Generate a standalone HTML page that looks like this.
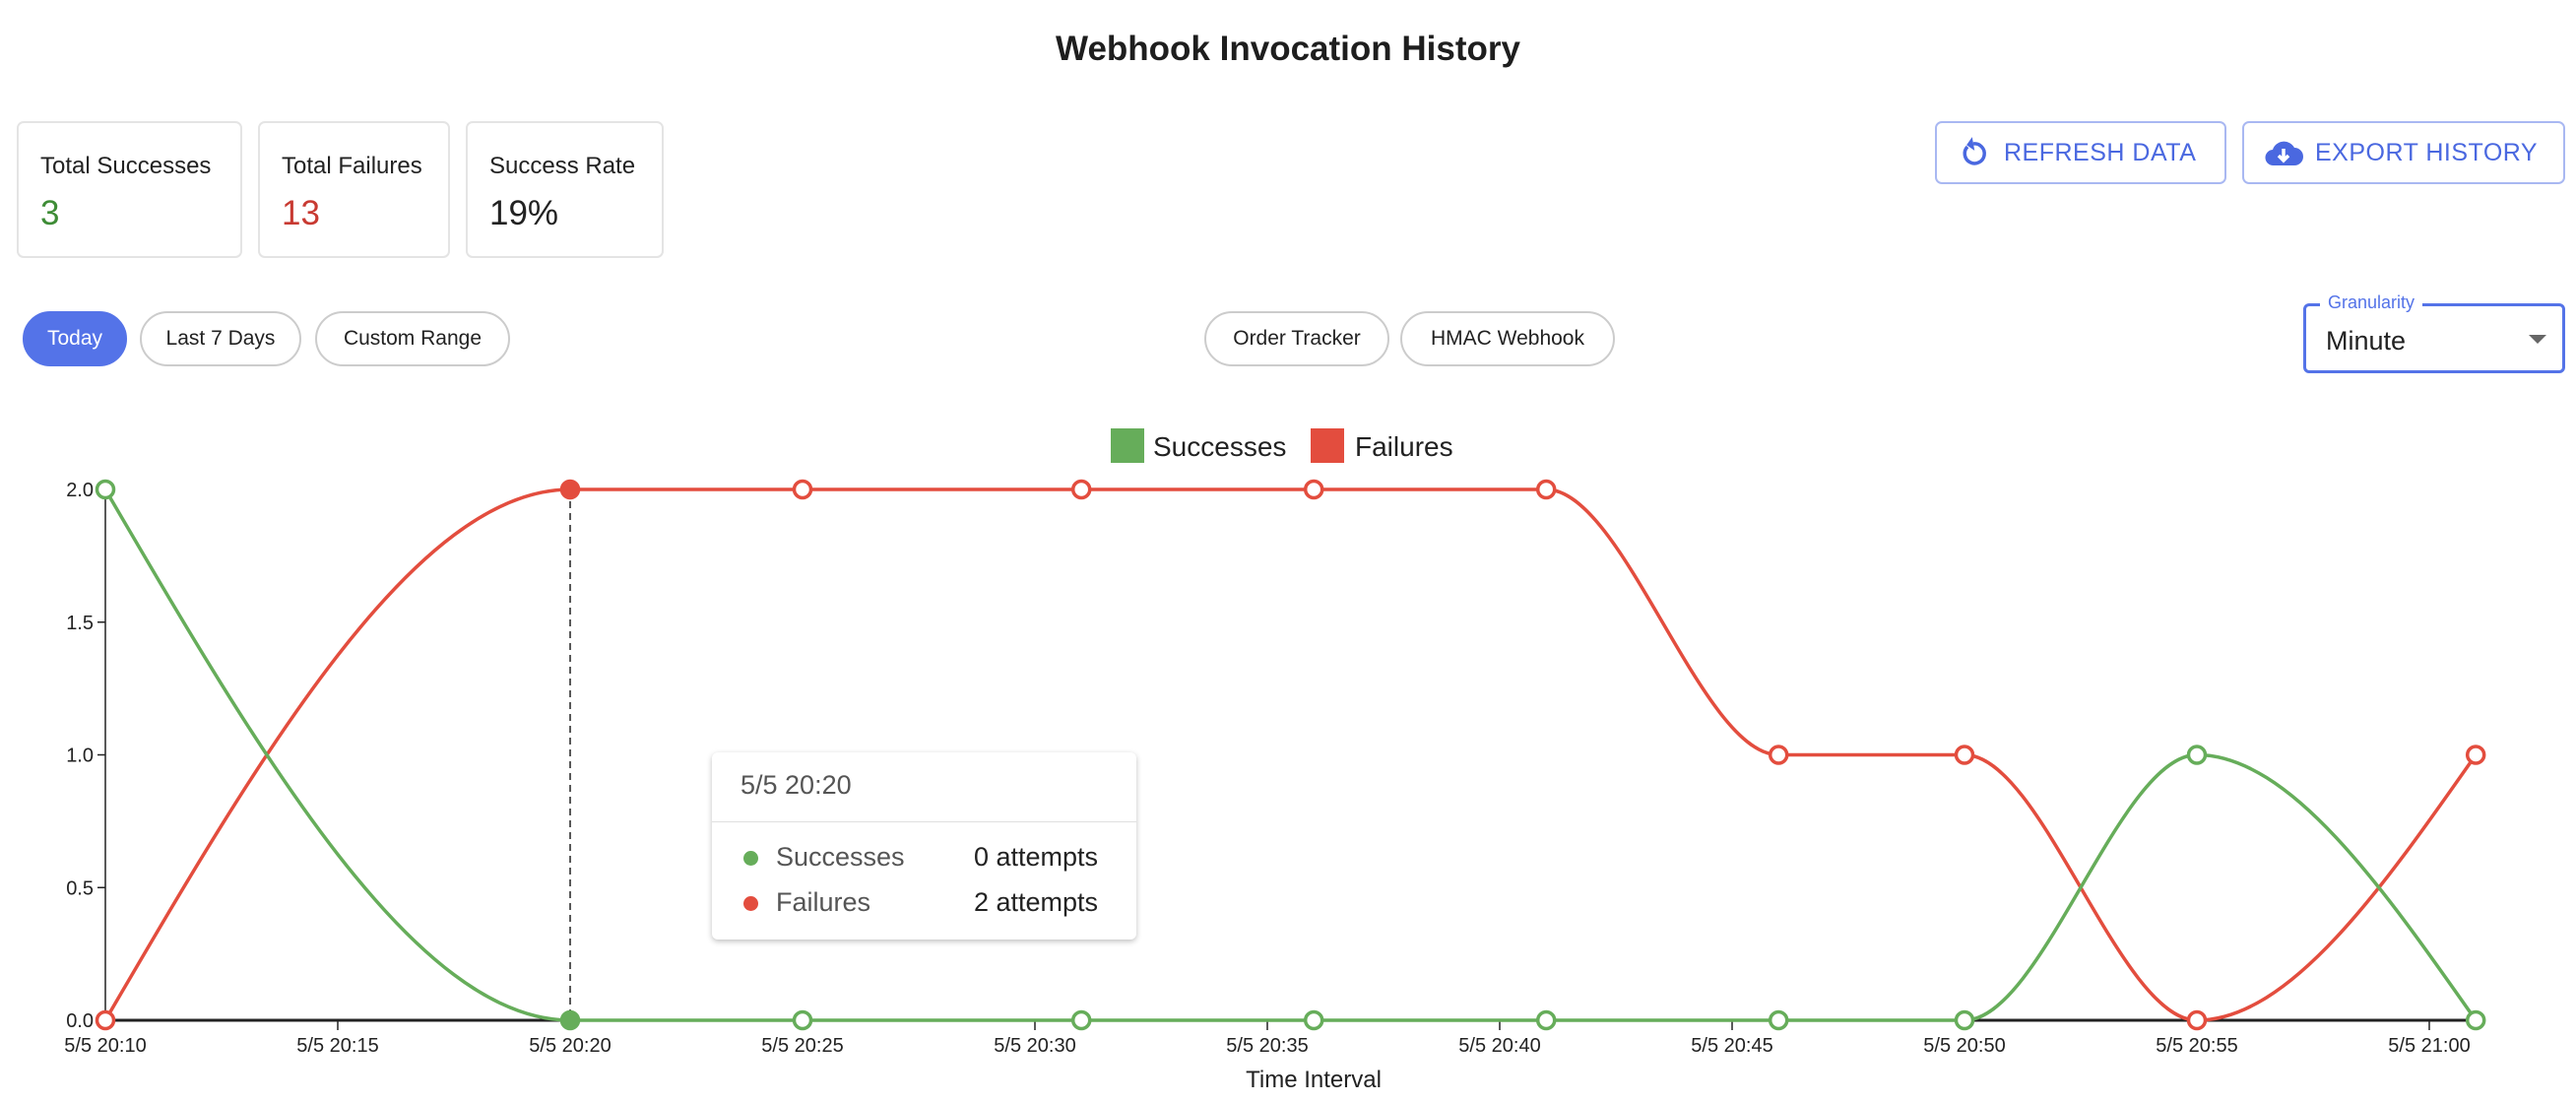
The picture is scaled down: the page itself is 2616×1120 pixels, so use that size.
<!DOCTYPE html>
<html><head><meta charset="utf-8"><style>
body{margin:0;width:2616px;height:1120px;background:#fff;font-family:"Liberation Sans",sans-serif;position:relative;overflow:hidden;color:#222}
.abs{position:absolute}
.card{position:absolute;top:123px;height:139px;border:2px solid #e4e4e4;border-radius:7px;box-sizing:border-box}
.card .lab{position:absolute;left:22px;top:30px;font-size:24px;color:#222}
.card .val{position:absolute;left:22px;top:72px;font-size:35px}
.btn{position:absolute;top:123px;height:64px;border:2px solid #a9b8f2;border-radius:7px;box-sizing:border-box;color:#4a68e0;font-size:25px;display:flex;align-items:center;letter-spacing:0.5px}
.chip{position:absolute;top:316px;height:56px;border:2px solid #ccc;border-radius:28px;box-sizing:border-box;font-size:21px;display:flex;align-items:center;justify-content:center;color:#222}
</style></head><body>
<div class="abs" style="left:0;width:2616px;top:30px;text-align:center;font-size:35px;font-weight:bold;color:#1e1e1e">Webhook Invocation History</div>

<div class="card" style="left:17px;width:229px"><div class="lab">Total Successes</div><div class="val" style="color:#3e8c36">3</div></div>
<div class="card" style="left:262px;width:195px"><div class="lab">Total Failures</div><div class="val" style="color:#c83a32">13</div></div>
<div class="card" style="left:473px;width:201px"><div class="lab">Success Rate</div><div class="val">19%</div></div>

<div class="btn" style="left:1965px;width:296px">
<svg width="30" height="36" viewBox="0 0 30 36" style="margin-left:22px;margin-right:16px"><path d="M9 12 A10 10 0 1 0 15 9" fill="none" stroke="#4a68e0" stroke-width="3.5"/><path d="M15 2 L15 16 L8 9 Z" fill="#4a68e0" transform="rotate(-10 15 9)"/></svg>REFRESH DATA</div>
<div class="btn" style="left:2277px;width:328px">
<svg width="40" height="34" viewBox="0 0 40 34" style="margin-left:20px;margin-right:12px"><path d="M10 30 A8 8 0 0 1 9 14 A12 12 0 0 1 31 12 A9 9 0 0 1 31 30 Z" fill="#4a68e0"/><path d="M20 13 V24 M15 20 L20 25 L25 20" stroke="#fff" stroke-width="3.5" fill="none"/></svg>EXPORT HISTORY</div>

<div class="chip" style="left:23px;width:106px;background:#5473e8;border-color:#5473e8;color:#fff">Today</div>
<div class="chip" style="left:142px;width:164px">Last 7 Days</div>
<div class="chip" style="left:320px;width:198px">Custom Range</div>
<div class="chip" style="left:1223px;width:188px">Order Tracker</div>
<div class="chip" style="left:1422px;width:218px">HMAC Webhook</div>

<div class="abs" style="left:2339px;top:308px;width:266px;height:71px;border:3px solid #5473e8;border-radius:6px;box-sizing:border-box">
<div class="abs" style="left:14px;top:-14px;background:#fff;padding:0 8px;font-size:18px;color:#5473e8">Granularity</div>
<div class="abs" style="left:20px;top:20px;font-size:27px;color:#222">Minute</div>
<div class="abs" style="left:226px;top:29px;width:0;height:0;border-left:9px solid transparent;border-right:9px solid transparent;border-top:9px solid #666"></div>
</div>

<svg id="chart" class="abs" style="left:0;top:0" width="2616" height="1120"></svg>

<div class="abs" style="left:723px;top:764px;width:431px;height:190px;background:#fff;border-radius:6px;box-shadow:0 2px 6px rgba(0,0,0,0.25);font-size:27px">
<div class="abs" style="left:29px;top:18px;color:#555">5/5 20:20</div>
<div class="abs" style="left:0;top:70px;width:431px;height:1px;background:#e0e0e0"></div>
<div class="abs" style="left:32px;top:100px;width:15px;height:15px;border-radius:50%;background:#66ad5a"></div>
<div class="abs" style="left:65px;top:91px;color:#555">Successes</div>
<div class="abs" style="left:266px;top:91px;color:#222">0 attempts</div>
<div class="abs" style="left:32px;top:146px;width:15px;height:15px;border-radius:50%;background:#e34d3e"></div>
<div class="abs" style="left:65px;top:137px;color:#555">Failures</div>
<div class="abs" style="left:266px;top:137px;color:#222">2 attempts</div>
</div>

<script>
const minutes=[0,10,15,21,26,31,36,40,45,51];
const successes=[2,0,0,0,0,0,0,0,1,0];
const failures=[0,2,2,2,2,2,1,1,0,1];
const xTickMinutes=[0,5,10,15,20,25,30,35,40,45,50];
const xTickLabels=["5/5 20:10","5/5 20:15","5/5 20:20","5/5 20:25","5/5 20:30","5/5 20:35","5/5 20:40","5/5 20:45","5/5 20:50","5/5 20:55","5/5 21:00"];
const yTicks=[0,0.5,1,1.5,2];
const hoverIndex=1;

const svg=document.getElementById('chart');
const NS='http://www.w3.org/2000/svg';
const X0=107,PXM=47.2,Y0=1036,Y2=497;
const xs=m=>X0+m*PXM;
const ys=v=>Y0+(Y2-Y0)*v/2;
function el(t,a,p){const e=document.createElementNS(NS,t);for(const k in a)e.setAttribute(k,a[k]);(p||svg).appendChild(e);return e;}

function monoPath(px,py){
  const n=px.length,d=[],m=[];
  for(let i=0;i<n-1;i++)d.push((py[i+1]-py[i])/(px[i+1]-px[i]));
  for(let i=0;i<n;i++){
    if(i==0||i==n-1)m.push(null);
    else{const a=d[i-1],b=d[i];const h0=px[i]-px[i-1],h1=px[i+1]-px[i];
      if(a*b<=0)m.push(0);else{const p=(a*h1+b*h0)/(h0+h1);m.push((Math.sign(a)+Math.sign(b))*Math.min(Math.abs(a),Math.abs(b),0.5*Math.abs(p)));}}
  }
  if(n>2){m[0]=(3*d[0]-m[1])/2;m[n-1]=(3*d[n-2]-m[n-2])/2;}else{m[0]=m[1]=d[0];}
  let s='M'+px[0]+','+py[0];
  for(let i=0;i<n-1;i++){const h=(px[i+1]-px[i])/3;
    s+=` C${px[i]+h},${py[i]+m[i]*h} ${px[i+1]-h},${py[i+1]-m[i+1]*h} ${px[i+1]},${py[i+1]}`;}
  return s;
}

const ya=el('line',{x1:X0,y1:Y2,x2:X0,y2:Y0,stroke:'#222','stroke-width':1.5});


yTicks.forEach(v=>{
  const t=el('line',{x1:X0-8,y1:ys(v),x2:X0,y2:ys(v),stroke:'#222','stroke-width':1.5});
  
  
  const tx=el('text',{x:X0-12,y:ys(v)+7,'text-anchor':'end','font-size':20,fill:'#222'});
  tx.textContent=v.toFixed(1);
  
  
});
const xa=el('line',{x1:X0,y1:Y0,x2:xs(51),y2:Y0,stroke:'#222','stroke-width':3});


xTickMinutes.forEach((m,i)=>{
  const t=el('line',{x1:xs(m),y1:Y0,x2:xs(m),y2:Y0+10,stroke:'#222','stroke-width':1.5});
  
  
  const tx=el('text',{x:xs(m),y:Y0+32,'text-anchor':'middle','font-size':20,fill:'#222'});
  tx.textContent=xTickLabels[i];
  
  
});
const xt=el('text',{x:1334,y:1104,'text-anchor':'middle','font-size':24,fill:'#222'});
xt.textContent='Time Interval';



const hl=el('line',{x1:xs(minutes[hoverIndex]),y1:Y2,x2:xs(minutes[hoverIndex]),y2:Y0,stroke:'#222','stroke-width':1.5,'stroke-dasharray':'7,5'});



function series(vals,color,name){
  const px=minutes.map(xs),py=vals.map(ys);
  const p=el('path',{d:monoPath(px,py),fill:'none',stroke:color,'stroke-width':3.5});
  
  
  vals.forEach((v,i)=>{
    const c=el('circle',{cx:px[i],cy:py[i],r:8.5,fill:i==hoverIndex?color:'#fff',stroke:color,'stroke-width':3.5});
    
    
  });
}
series(failures,'#e34d3e','failures');
series(successes,'#66ad5a','successes');

const l1=el('rect',{x:1128,y:435,width:34,height:35,fill:'#66ad5a'});


const t1=el('text',{x:1171,y:463,'font-size':28,fill:'#222'});t1.textContent='Successes';


const l2=el('rect',{x:1331,y:435,width:34,height:35,fill:'#e34d3e'});


const t2=el('text',{x:1376,y:463,'font-size':28,fill:'#222'});t2.textContent='Failures';


</script>
</body></html>
